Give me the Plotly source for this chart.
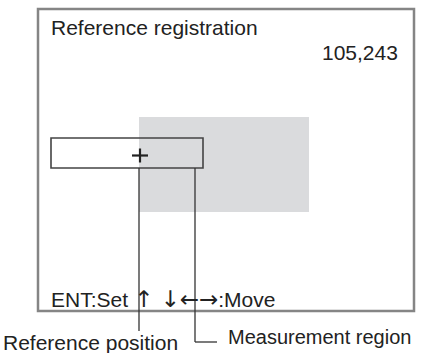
import plotly.graph_objects as go

# Diagram content (screen coordinates in pixels of the 424x353 canvas)
screen_frame = [38, 9, 414, 311]          # x0, y0, x1, y1
image_region = [139, 117, 309, 212]       # grey camera image
measure_box = [51, 138, 203, 168]         # measurement region box
ref_cross = [140, 155.5]                  # reference position cross
leader_ref = [[139, 168], [139, 331]]
leader_meas = [[195, 168], [195, 342], [217, 342]]

arrow_span = '<span style="font-family:DejaVu Sans;font-size:23px">\u2191 \u2193\u2190\u2192</span>'
labels = ["Reference registration", "105,243", "ENT:Set " + arrow_span + ":Move",
          "Reference position", "Measurement region"]
label_pos = [[49, 27, "left"], [400, 52.5, "right"], [49, 299, "left"],
             [1, 342, "left"], [226, 336.5, "left"]]
label_size = [21, 21, 21, 21, 20]

fig = go.Figure()
fig.add_trace(go.Scatter(x=[0, 424], y=[0, 353], mode="markers",
                         marker=dict(opacity=0), hoverinfo="skip", showlegend=False))

shapes = []
shapes.append(dict(type="rect", x0=image_region[0], y0=image_region[1], x1=image_region[2], y1=image_region[3],
                   fillcolor="#dadbdd", line=dict(width=0), layer="below"))
shapes.append(dict(type="rect", x0=screen_frame[0], y0=screen_frame[1], x1=screen_frame[2], y1=screen_frame[3],
                   line=dict(color="#858585", width=2.5), fillcolor="rgba(0,0,0,0)"))
shapes.append(dict(type="rect", x0=measure_box[0], y0=measure_box[1], x1=measure_box[2], y1=measure_box[3],
                   line=dict(color="#444444", width=1.6), fillcolor="rgba(0,0,0,0)"))
shapes.append(dict(type="rect", x0=measure_box[0], y0=measure_box[1], x1=image_region[0], y1=measure_box[3],
                   line=dict(width=0), fillcolor="white", layer="below"))
cx, cy = ref_cross
shapes.append(dict(type="line", x0=cx - 8, y0=cy, x1=cx + 8, y1=cy, line=dict(color="#222222", width=2.2)))
shapes.append(dict(type="line", x0=cx, y0=cy - 7, x1=cx, y1=cy + 7, line=dict(color="#222222", width=2.2)))
for path in (leader_ref, leader_meas):
    for (a, b) in zip(path[:-1], path[1:]):
        shapes.append(dict(type="line", x0=a[0], y0=a[1], x1=b[0], y1=b[1],
                           line=dict(color="#333333", width=1.3)))

annotations = []
for text, (x, y, anchor), size in zip(labels, label_pos, label_size):
    annotations.append(dict(x=x, y=y, text=text, showarrow=False, xanchor=anchor, yanchor="middle",
                            font=dict(family="Liberation Sans, Arial, sans-serif", size=size, color="#222222")))

fig.update_layout(
    width=424, height=353, margin=dict(l=0, r=0, t=0, b=0),
    paper_bgcolor="white", plot_bgcolor="white",
    xaxis=dict(range=[0, 424], visible=False, fixedrange=True),
    yaxis=dict(range=[353, 0], visible=False, fixedrange=True),
    shapes=shapes, annotations=annotations, showlegend=False,
)
fig.write_html("out.html", config={"displayModeBar": False},
               post_script="document.body.style.margin='0';document.body.style.overflow='hidden';")
